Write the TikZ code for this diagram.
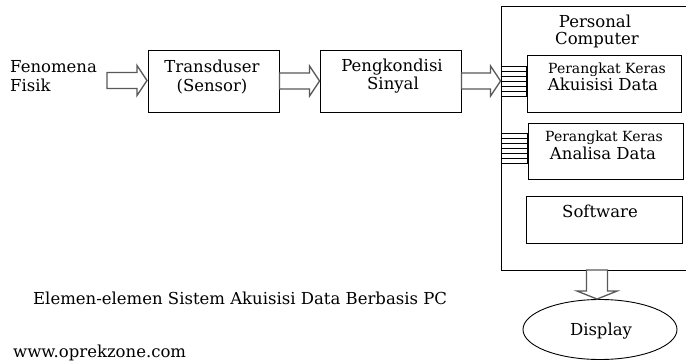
\documentclass[tikz,border=0pt]{standalone}
\usepackage{fontspec}
\setmainfont{DejaVu Serif}
\usetikzlibrary{calc,shapes.geometric}
\tikzset{
  box/.style={draw=black, line width=0.9pt, rectangle, inner sep=0pt},
  barrow/.style={draw=black!65, line width=1.3pt, fill=white, line join=miter},
  comb/.style={draw=black, line width=0.8pt},
  txt/.style={inner sep=0pt, anchor=base, font=\fontsize{16.5}{19}\selectfont},
  stxt/.style={inner sep=0pt, anchor=base, font=\fontsize{14}{16}\selectfont},
}
\newcommand\rblock[2]{\path[barrow] let \p1=#1, \p2=#2 in
  (\x1,{\y1+8pt}) -- ({\x2-10pt},{\y1+8pt}) -- ({\x2-10pt},{\y1+15pt}) -- (\x2,\y1)
  -- ({\x2-10pt},{\y1-15pt}) -- ({\x2-10pt},{\y1-8pt}) -- (\x1,{\y1-8pt}) -- cycle;}
\newcommand\dblock[2]{\path[barrow] let \p1=#1, \p2=#2 in
  ({\x1-10.5pt},\y1) -- ({\x1-10.5pt},{\y2+8pt}) -- ({\x1-20pt},{\y2+8pt}) -- (\x1,\y2)
  -- ({\x1+20pt},{\y2+8pt}) -- ({\x1+10.5pt},{\y2+8pt}) -- ({\x1+10.5pt},\y1) -- cycle;}
\begin{document}
\begin{tikzpicture}[x=1pt,y=-1pt]
\useasboundingbox (0,0) rectangle (686,361);
\clip (0,0) rectangle (686,361);
\fill[white] (0,0) rectangle (686,361);

% boxes
\node[box, minimum width=131pt, minimum height=62pt] (trans) at (213.5,81) {};
\node[box, minimum width=141pt, minimum height=62pt] (peng) at (390.5,81) {};
\node[box, minimum width=189pt, minimum height=264pt] (pc) at (595.5,138) {};
\node[box, minimum width=154pt, minimum height=57pt] (acq) at (604,83.5) {};
\node[box, minimum width=155pt, minimum height=56pt] (ana) at (605.5,151) {};
\node[box, minimum width=156pt, minimum height=47pt] (soft) at (604,219.5) {};
\node[draw=black, line width=0.9pt, ellipse, minimum width=154pt, minimum height=60pt, inner sep=0pt] (disp) at (600,329.5) {};

% texts
\node[txt, anchor=base west] (fen1) at (10,73) {Fenomena};
\node[txt, anchor=base west] (fen2) at (10,92) {Fisik};
\node[txt] (tr1) at (212,73) {Transduser};
\node[txt] (tr2) at (212,92) {(Sensor)};
\node[txt] (pk1) at (392,72) {Pengkondisi};
\node[txt] (pk2) at (393,90) {Sinyal};
\node[txt] (pc1) at (595,28) {Personal};
\node[txt] (pc2) at (597,45) {Computer};
\node[stxt] (aq1) at (607,74) {Perangkat Keras};
\node[txt] (aq2) at (603,91) {Akuisisi Data};
\node[stxt] (an1) at (604,142) {Perangkat Keras};
\node[txt] (an2) at (603,159) {Analisa Data};
\node[txt] (sw) at (600,217) {Software};
\node[txt] (dl) at (601,335) {Display};
\node[txt, anchor=base west] (cap) at (33,304) {Elemen-elemen Sistem Akuisisi Data Berbasis PC};
\node[txt, anchor=base west] (web) at (13,357) {www.oprekzone.com};

% block arrows
\coordinate (a0) at (107,80.5);
\coordinate (a1) at (147,80.5);
\rblock{(a0)}{(a1)}
\rblock{(trans.east)}{(peng.west)}
\rblock{(peng.east)}{(pc.west |- peng.east)}
\coordinate (dtop) at (597,270);
\dblock{(dtop)}{(disp.north -| dtop)}

% parallel bus lines
\foreach \i in {0,...,6}{
  \draw[comb] (pc.west |- 0,{66+5*\i}) -- (acq.west |- 0,{66+5*\i});
  \draw[comb] (pc.west |- 0,{133+5*\i}) -- (ana.west |- 0,{133+5*\i});
}
\draw[line width=2pt] (acq.west |- 0,66) -- (acq.west |- 0,96);
\draw[line width=2pt] (ana.west |- 0,133) -- (ana.west |- 0,163);
\end{tikzpicture}
\end{document}
